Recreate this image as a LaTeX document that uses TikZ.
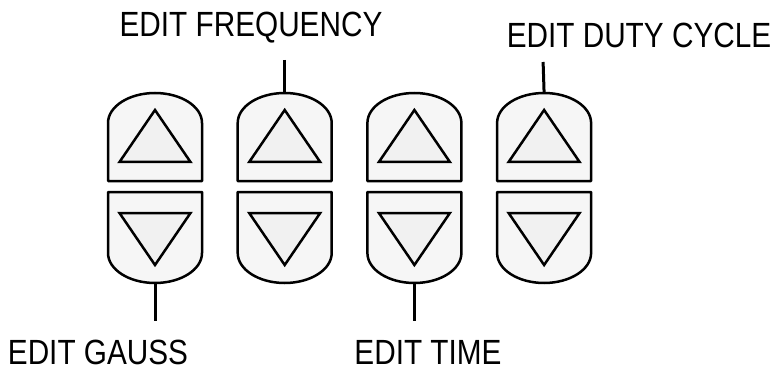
\documentclass[tikz,border=0pt]{standalone}
\usepackage{fontspec}
\setmainfont{Liberation Sans}[FakeStretch=0.85]
\usepackage{tikz}
\usetikzlibrary{
  positioning,
  calc
}
\definecolor{btnFill}{HTML}{F6F6F6}
\definecolor{btnArrow}{HTML}{F1F1F1}
\tikzset{
  keycap/.style={draw=black, line width=2.5pt, fill=btnFill, line join=round},
  keyarrow/.style={draw=black, line width=2.5pt, fill=btnArrow, line join=miter},
  stem/.style={draw=black, line width=3pt},
  keylabel/.style={font=\fontsize{35}{40}\selectfont, anchor=base, inner sep=0pt}
}

\begin{document}
\begin{tikzpicture}[x=1pt, y=1pt]
  \useasboundingbox (0,0) rectangle (776,370);
  % four up/down button pairs
  \foreach \i [evaluate=\i as \cx using 155+129.7*(\i-1)] in {1,2,3,4} {
    \draw[keycap] (\cx-47,189) -- (\cx-47,247)
      arc[start angle=180, end angle=0, x radius=47, y radius=30] -- (\cx+47,189) -- cycle;
    \draw[keyarrow] (\cx,260) -- (\cx-35.5,208) -- (\cx+35.5,208) -- cycle;
    \draw[keycap] (\cx-47,178) -- (\cx-47,117)
      arc[start angle=180, end angle=360, x radius=47, y radius=30] -- (\cx+47,178) -- cycle;
    \draw[keyarrow] (\cx,105) -- (\cx-35.5,157) -- (\cx+35.5,157) -- cycle;
    \coordinate (up\i) at (\cx,277);
    \coordinate (dn\i) at (\cx,87);
  }
  % labels
  \node[keylabel] (lfreq) at (251,333) {EDIT FREQUENCY};
  \node[keylabel] (lduty) at (639,322) {EDIT DUTY CYCLE};
  \node[keylabel] (lgauss) at (98,6) {EDIT GAUSS};
  \node[keylabel] (ltime) at (428,6) {EDIT TIME};
  \coordinate (tfreq) at ($(up2)+(0,33)$);
  \coordinate (tduty) at ($(up4)+(-1,31)$);
  \coordinate (tgauss) at ($(dn1)+(0,-38)$);
  \coordinate (ttime) at ($(dn3)+(0,-38)$);
  \draw[stem] (tfreq) -- (up2);
  \draw[stem] (tduty) -- (up4);
  \draw[stem] (dn1) -- (tgauss);
  \draw[stem] (dn3) -- (ttime);
\end{tikzpicture}
\end{document}
